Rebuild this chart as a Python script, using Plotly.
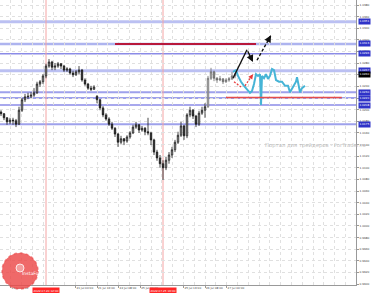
import plotly.graph_objects as go

# ---------------- data (EUR/USD, H1-like bars) ----------------
bar_index = list(range(79))
open_ = [1.0196, 1.0193, 1.0186, 1.0179, 1.0182, 1.0181, 1.0175, 1.0199, 1.0217, 1.0222,
         1.0223, 1.0225, 1.0229, 1.0244, 1.0248, 1.0258, 1.0275, 1.0282, 1.0273, 1.0275,
         1.0279, 1.0275, 1.0268, 1.0270, 1.0263, 1.0260, 1.0265, 1.0268, 1.0251, 1.0244,
         1.0237, 1.0235, 1.0223, 1.0217, 1.0203, 1.0191, 1.0184, 1.0175, 1.0168, 1.0158,
         1.0144, 1.0150, 1.0146, 1.0153, 1.0160, 1.0170, 1.0174, 1.0165, 1.0168, 1.0162,
         1.0160, 1.0148, 1.0127, 1.0117, 1.0107, 1.0100, 1.0113, 1.0122, 1.0131, 1.0144,
         1.0156, 1.0172, 1.0155, 1.0191, 1.0199, 1.0189, 1.0175, 1.0194, 1.0199, 1.0205,
         1.0254, 1.0265, 1.0254, 1.0251, 1.0253, 1.0248, 1.0251, 1.0253, 1.0258]
high = [1.0199, 1.0194, 1.0187, 1.0186, 1.0186, 1.0184, 1.0205, 1.0220, 1.0227, 1.0229,
        1.0230, 1.0237, 1.0248, 1.0251, 1.0261, 1.0279, 1.0287, 1.0284, 1.0280, 1.0282,
        1.0280, 1.0277, 1.0273, 1.0272, 1.0267, 1.0268, 1.0275, 1.0270, 1.0254, 1.0246,
        1.0241, 1.0242, 1.0225, 1.0218, 1.0206, 1.0194, 1.0187, 1.0179, 1.0170, 1.0160,
        1.0155, 1.0151, 1.0156, 1.0163, 1.0174, 1.0179, 1.0175, 1.0172, 1.0170, 1.0186,
        1.0162, 1.0150, 1.0131, 1.0122, 1.0113, 1.0119, 1.0127, 1.0136, 1.0148, 1.0162,
        1.0179, 1.0174, 1.0194, 1.0205, 1.0201, 1.0191, 1.0198, 1.0205, 1.0211, 1.0258,
        1.0272, 1.0267, 1.0256, 1.0258, 1.0254, 1.0254, 1.0256, 1.0265, 1.0263]
low = [1.0189, 1.0182, 1.0174, 1.0175, 1.0174, 1.0170, 1.0174, 1.0196, 1.0213, 1.0218,
       1.0220, 1.0222, 1.0227, 1.0239, 1.0244, 1.0254, 1.0272, 1.0268, 1.0268, 1.0272,
       1.0270, 1.0265, 1.0265, 1.0260, 1.0256, 1.0258, 1.0261, 1.0248, 1.0241, 1.0234,
       1.0232, 1.0234, 1.0211, 1.0199, 1.0187, 1.0181, 1.0172, 1.0165, 1.0153, 1.0136,
       1.0141, 1.0139, 1.0143, 1.0150, 1.0158, 1.0167, 1.0160, 1.0162, 1.0156, 1.0156,
       1.0139, 1.0122, 1.0112, 1.0100, 1.0079, 1.0096, 1.0107, 1.0117, 1.0127, 1.0141,
       1.0153, 1.0148, 1.0151, 1.0187, 1.0184, 1.0170, 1.0172, 1.0191, 1.0186, 1.0203,
       1.0251, 1.0249, 1.0246, 1.0249, 1.0244, 1.0246, 1.0248, 1.0251, 1.0254]
close = [1.0193, 1.0186, 1.0179, 1.0182, 1.0181, 1.0175, 1.0199, 1.0217, 1.0222, 1.0223,
         1.0225, 1.0229, 1.0244, 1.0248, 1.0258, 1.0275, 1.0282, 1.0273, 1.0275, 1.0279,
         1.0275, 1.0268, 1.0270, 1.0263, 1.0260, 1.0265, 1.0268, 1.0251, 1.0244, 1.0237,
         1.0235, 1.0239, 1.0217, 1.0203, 1.0191, 1.0184, 1.0175, 1.0168, 1.0158, 1.0144,
         1.0150, 1.0146, 1.0153, 1.0160, 1.0170, 1.0174, 1.0165, 1.0168, 1.0162, 1.0160,
         1.0148, 1.0127, 1.0117, 1.0107, 1.0100, 1.0113, 1.0122, 1.0131, 1.0144, 1.0156,
         1.0172, 1.0155, 1.0191, 1.0199, 1.0189, 1.0175, 1.0194, 1.0199, 1.0205, 1.0254,
         1.0265, 1.0254, 1.0251, 1.0253, 1.0248, 1.0251, 1.0253, 1.0258, 1.0260]
recent_start = 69  # bars from here are drawn lighter

# horizontal support / resistance levels
levels = [1.0351, 1.0313, 1.0296, 1.0267, 1.0230, 1.0220, 1.0208, 1.0175]
current_price = 1.0260

# red target lines: (x_start, x_end, price)
dark_red_line = [38, 85, 1.0313]
light_red_line = [75, 113.6, 1.0221]

# event markers (vertical lines)
event_bars = [15, 54]
event_labels = ["2022.07.20 12:00", "2022.07.25 16:00"]

# forecast path (cyan)
fc_x = [77.33, 78.33, 79, 80, 81, 82, 83, 83.67, 84.33, 85, 85.67, 86.33, 86.67, 87,
        87.67, 88.33, 89, 89.67, 90.33, 91, 91.67, 92.67, 93.67, 94.67, 95.67, 96.33,
        97, 97.67, 98.33, 98.67, 99.33, 99.67, 100.33, 101.33]
fc_y = [1.0265, 1.0268, 1.0258, 1.0248, 1.0241, 1.0234, 1.0229, 1.0232, 1.0244, 1.0261,
        1.0258, 1.0261, 1.0208, 1.0258, 1.0254, 1.0261, 1.0253, 1.0258, 1.0270, 1.0268,
        1.0251, 1.0248, 1.0248, 1.0241, 1.0241, 1.0230, 1.0237, 1.0244, 1.0248, 1.0256,
        1.0241, 1.0230, 1.0237, 1.0241]

# black scenario arrows
black_x = [77.33, 82, 84]
black_y = [1.0254, 1.0303, 1.0282]
black_dash_x = [85.33, 90]
black_dash_y = [1.0285, 1.0328]
# red small scenario arrows
red1_x = [77.67, 80]
red1_y = [1.0248, 1.0239]
red2_x = [81.33, 84]
red2_y = [1.0241, 1.0261]

# time axis labels
time_ticks = [3.2, 24.8, 32, 39.2, 46.4, 60.8, 68, 75.2]
time_labels = ["19 Jul 16:00", "21 Jul 00:00", "21 Jul 16:00", "22 Jul 08:00",
               "25 Jul 00:00", "25 Jul 16:00", "26 Jul 08:00", "27 Jul 00:00"]

# ---------------- figure ----------------
FS = 2.8
fig = go.Figure()

level_widths = [3, 2.5, 1.5, 3, 2, 2, 1.5, 2]
level_colors = ['rgba(150,158,235,0.65)', 'rgba(140,148,232,0.7)', 'rgba(110,110,225,0.8)',
                'rgba(150,158,235,0.65)', 'rgba(125,130,228,0.75)', 'rgba(125,130,228,0.75)',
                'rgba(110,110,225,0.8)', 'rgba(125,130,228,0.75)']
for lv, w, c in zip(levels, level_widths, level_colors):
    fig.add_shape(type='line', xref='paper', x0=0, x1=1, yref='y', y0=lv, y1=lv,
                  line=dict(color=c, width=w), layer='below')

for eb in event_bars:
    fig.add_shape(type='line', xref='x', x0=eb, x1=eb, yref='paper', y0=0, y1=1,
                  line=dict(color='#f4a4a4', width=1), layer='below')

fig.add_shape(type='line', xref='x', x0=dark_red_line[0], x1=dark_red_line[1], yref='y',
              y0=dark_red_line[2], y1=dark_red_line[2], line=dict(color='#b8183c', width=2))
fig.add_shape(type='line', xref='x', x0=light_red_line[0], x1=light_red_line[1], yref='y',
              y0=light_red_line[2], y1=light_red_line[2], line=dict(color='#e44c4c', width=1.5))

def candles(sl, lc, inc_fill, dec_fill):
    return go.Candlestick(
        x=bar_index[sl], open=open_[sl], high=high[sl], low=low[sl], close=close[sl],
        increasing=dict(line=dict(color=lc, width=0.8), fillcolor=inc_fill),
        decreasing=dict(line=dict(color=lc, width=0.8), fillcolor=dec_fill),
        whiskerwidth=0, hoverinfo='skip', showlegend=False)

fig.add_trace(candles(slice(0, recent_start), '#1a1a1a', '#bdbdbd', '#1a1a1a'))
fig.add_trace(candles(slice(recent_start, None), '#6a6a6a', '#cfcfcf', '#7a7a7a'))

fig.add_trace(go.Scatter(x=fc_x, y=fc_y, mode='lines', line=dict(color='#46b4d6', width=2),
                         hoverinfo='skip', showlegend=False))
fig.add_trace(go.Scatter(x=black_x[:2], y=black_y[:2], mode='lines',
                         line=dict(color='#111111', width=1.4), hoverinfo='skip', showlegend=False))
fig.add_trace(go.Scatter(x=black_dash_x, y=black_dash_y, mode='lines',
                         line=dict(color='#111111', width=1.4, dash='3px,2px'),
                         hoverinfo='skip', showlegend=False))
fig.add_trace(go.Scatter(x=red1_x, y=red1_y, mode='lines',
                         line=dict(color='#e83a3a', width=1.2, dash='2px,1.5px'),
                         hoverinfo='skip', showlegend=False))
fig.add_trace(go.Scatter(x=red2_x, y=red2_y, mode='lines',
                         line=dict(color='#e83a3a', width=1.2, dash='2px,1.5px'),
                         hoverinfo='skip', showlegend=False))

ann = []
# arrow heads
ann.append(dict(x=black_x[2], y=black_y[2], ax=black_x[1], ay=black_y[1], xref='x', yref='y',
                axref='x', ayref='y', showarrow=True, arrowhead=2, arrowsize=1,
                arrowwidth=1.4, arrowcolor='#111111', text=''))
ann.append(dict(x=black_dash_x[1], y=black_dash_y[1],
                ax=black_dash_x[1] - 0.25 * (black_dash_x[1] - black_dash_x[0]),
                ay=black_dash_y[1] - 0.25 * (black_dash_y[1] - black_dash_y[0]),
                xref='x', yref='y', axref='x', ayref='y', showarrow=True, arrowhead=2,
                arrowsize=1, arrowwidth=1.4, arrowcolor='#111111', text=''))
ann.append(dict(x=red2_x[1], y=red2_y[1],
                ax=red2_x[1] - 0.3 * (red2_x[1] - red2_x[0]),
                ay=red2_y[1] - 0.3 * (red2_y[1] - red2_y[0]),
                xref='x', yref='y', axref='x', ayref='y', showarrow=True, arrowhead=2,
                arrowsize=0.8, arrowwidth=1.2, arrowcolor='#e83a3a', text=''))

# level price boxes on the right axis
for lv in levels:
    ann.append(dict(x=1, xref='paper', xanchor='left', xshift=2, y=lv, yref='y',
                    text=f'{lv:.4f}', showarrow=False, bgcolor='#2f33c8', borderpad=0.4,
                    font=dict(size=FS, color='white', family='DejaVu Sans')))
ann.append(dict(x=1, xref='paper', xanchor='left', xshift=2, y=current_price, yref='y',
                text=f'{current_price:.4f}', showarrow=False, bgcolor='#000000', borderpad=0.4,
                font=dict(size=FS, color='white', family='DejaVu Sans')))

# event time boxes
for eb, lab in zip(event_bars, event_labels):
    ann.append(dict(x=eb, xref='x', y=0, yref='paper', yanchor='top', yshift=-2,
                    text=lab, showarrow=False, bgcolor='#ff2626', borderpad=0.6,
                    font=dict(size=FS, color='white', family='DejaVu Sans')))

# watermark
ann.append(dict(x=263 / 356, xref='paper', xanchor='left', y=1 - 145 / 285, yref='paper',
                text='Портал для трейдеров - ForTrader.ru', showarrow=False,
                font=dict(size=5.3, color='#bcbcbc', family='DejaVu Sans')))

# InstaForex logo
fig.add_shape(type='circle', xref='paper', yref='paper', x0=2 / 356, x1=38 / 356,
              y0=1 - 289 / 285, y1=1 - 253 / 285, fillcolor='rgba(236,72,72,0.82)',
              line=dict(color='rgba(236,72,72,0.6)', width=1.5, dash='dot'))
fig.add_shape(type='circle', xref='paper', yref='paper', x0=16 / 356, x1=24 / 356,
              y0=1 - 272 / 285, y1=1 - 264 / 285, fillcolor='rgba(255,255,255,0.35)',
              line=dict(color='white', width=0.8))
ann.append(dict(x=20 / 356, xref='paper', y=1 - 278 / 285, yref='paper', text='InstaForex',
                showarrow=False, font=dict(size=4.6, color='white', family='DejaVu Sans')))

fig.update_layout(
    width=373, height=293, margin=dict(l=0, r=17, t=0, b=8),
    paper_bgcolor='white', plot_bgcolor='white', showlegend=False,
    annotations=ann,
    xaxis=dict(range=[-1 / 3, 355 / 3], rangeslider=dict(visible=False),
               tickmode='array', tickvals=time_ticks, ticktext=time_labels,
               ticklabelposition='outside right', tickangle=0, showgrid=False, zeroline=False,
               tickfont=dict(size=FS, color='#444', family='DejaVu Sans'),
               ticks='outside', ticklen=2, tickcolor='#999',
               showline=True, linecolor='#999', linewidth=1,
               minor=dict(tickmode='linear', tick0=-0.4, dtick=3.6, showgrid=True,
                          gridcolor='#e0e0e0', griddash='dot', gridwidth=1, ticks='')),
    yaxis=dict(range=[0.98984, 1.03886], side='right', tickmode='linear', tick0=0.99,
               dtick=0.002, tickformat='.4f', showgrid=True, gridcolor='#e0e0e0',
               griddash='dot', zeroline=False,
               tickfont=dict(size=FS, color='#444', family='DejaVu Sans'),
               ticks='outside', ticklen=2, tickcolor='#999',
               showline=True, linecolor='#999', linewidth=1),
)

fig.write_html("out.html")
